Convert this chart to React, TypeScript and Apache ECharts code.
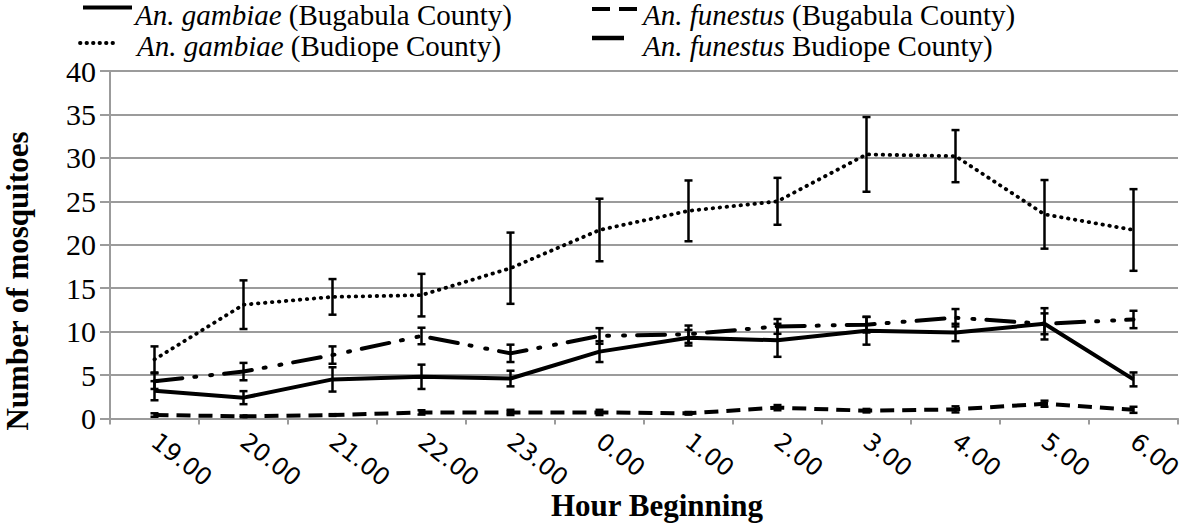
import React, { useEffect, useRef } from "react";
import * as echarts from "echarts";

const hours = ["19.00", "20.00", "21.00", "22.00", "23.00", "0.00", "1.00", "2.00", "3.00", "4.00", "5.00", "6.00"];
const yTicks = [0, 5, 10, 15, 20, 25, 30, 35, 40];

const gambiaeBugabula = [3.2, 2.4, 4.5, 4.8, 4.6, 7.7, 9.3, 9.0, 10.1, 9.9, 10.9, 4.5];
const gambiaeBugabulaErr = [1.1, 0.75, 1.4, 1.4, 0.9, 1.2, 0.9, 1.9, 1.6, 1.0, 1.2, 0.8];

const gambiaeBudiope = [6.8, 13.1, 14.0, 14.2, 17.3, 21.7, 23.9, 25.0, 30.4, 30.2, 23.5, 21.7];
const gambiaeBudiopeErr = [1.5, 2.8, 2.05, 2.45, 4.1, 3.6, 3.5, 2.7, 4.3, 3.0, 3.95, 4.7];

const funestusBugabula = [0.4, 0.25, 0.4, 0.7, 0.7, 0.7, 0.6, 1.25, 0.9, 1.05, 1.7, 1.0];
const funestusBugabulaErr = [0.2, 0.1, 0.1, 0.25, 0.3, 0.3, 0.15, 0.3, 0.2, 0.35, 0.35, 0.35];

const funestusBudiope = [4.3, 5.4, 7.3, 9.5, 7.5, 9.5, 9.7, 10.6, 10.8, 11.6, 10.9, 11.4];
const funestusBudiopeErr = [0.9, 1.0, 1.0, 0.95, 1.0, 0.9, 1.0, 0.85, 0.9, 1.0, 1.8, 1.0];

const SERIF = "'Liberation Serif', 'Times New Roman', serif";
const GRID = "#9b9b9b";
const LEGEND_FS = 29;

function errorSeries(name: string, means: number[], errs: number[]) {
  return {
    type: "custom",
    name,
    z: 5,
    silent: true,
    data: means.map((m, i) => [i, m, errs[i]]),
    renderItem: (params: any, api: any) => {
      const x = api.value(0);
      const m = api.value(1);
      const e = api.value(2);
      const top = api.coord([x, m + e]);
      const bot = api.coord([x, m - e]);
      const hw = 4;
      const style = { stroke: "#000", lineWidth: 2.5 };
      return {
        type: "group",
        children: [
          { type: "line", shape: { x1: top[0], y1: top[1], x2: bot[0], y2: bot[1] }, style },
          { type: "line", shape: { x1: top[0] - hw, y1: top[1], x2: top[0] + hw, y2: top[1] }, style },
          { type: "line", shape: { x1: bot[0] - hw, y1: bot[1], x2: bot[0] + hw, y2: bot[1] }, style },
        ],
      };
    },
  };
}

function lineSeries(name: string, data: number[], width: number, dash: any, cap: string = "butt") {
  return {
    type: "line",
    name,
    data,
    symbol: "none",
    z: 4,
    lineStyle: { color: "#000", width, type: dash, cap, join: "round" },
  };
}

function legendText(x: number, y: number, italic: string, rest: string) {
  return {
    type: "text",
    x,
    y,
    style: {
      text: `{i|${italic}}{r|${rest}}`,
      fontFamily: SERIF,
      fontSize: LEGEND_FS,
      fill: "#000",
      textAlign: "left",
      textVerticalAlign: "middle",
      verticalAlign: "middle",
      rich: {
        i: { fontFamily: SERIF, fontSize: LEGEND_FS, fontStyle: "italic", fill: "#000" },
        r: { fontFamily: SERIF, fontSize: LEGEND_FS, fill: "#000" },
      },
    },
  };
}

function legendLine(x1: number, x2: number, y: number, width: number, dash?: number[], cap: string = "butt") {
  return {
    type: "line",
    shape: { x1, y1: y, x2, y2: y },
    style: { stroke: "#000", lineWidth: width, lineDash: dash, lineCap: cap },
  };
}

export default function App() {
  const ref = useRef<HTMLDivElement>(null);
  useEffect(() => {
    document.body.style.margin = "0";
    const chart = echarts.init(ref.current!, undefined, { renderer: "svg" });
    chart.setOption({
      animation: false,
      backgroundColor: "#fff",
      grid: { left: 110, right: 22, top: 71, bottom: 106.5, containLabel: false },
      xAxis: {
        type: "category",
        data: hours,
        boundaryGap: true,
        axisLine: { show: true, lineStyle: { color: GRID, width: 2 } },
        axisTick: { show: true, length: 6, lineStyle: { color: GRID, width: 2 }, alignWithLabel: false },
        axisLabel: {
          rotate: -38,
          margin: 20,
          fontFamily: "'DejaVu Sans', sans-serif",
          fontSize: 24,
          color: "#000",
        },
        splitLine: { show: false },
      },
      yAxis: {
        type: "value",
        min: 0,
        max: 40,
        interval: 5,
        axisLine: { show: true, lineStyle: { color: GRID, width: 2 } },
        axisTick: { show: true, length: 10, inside: false, lineStyle: { color: GRID, width: 2 } },
        axisLabel: {
          margin: 14,
          fontFamily: SERIF,
          fontSize: 30,
          color: "#000",
          formatter: (v: number) => (yTicks.includes(v) ? String(v) : ""),
        },
        splitLine: { show: true, lineStyle: { color: GRID, width: 2 } },
      },
      series: [
        lineSeries("An. gambiae (Bugabula County)", gambiaeBugabula, 4, "solid"),
        lineSeries("An. funestus (Bugabula County)", funestusBugabula, 4, [14, 8]),
        lineSeries("An. gambiae (Budiope County)", gambiaeBudiope, 3.8, [0.5, 6.5], "round"),
        lineSeries("An. funestus Budiope County)", funestusBudiope, 4, [28, 12, 2, 14, 2, 12], "round"),
        errorSeries("err1", gambiaeBugabula, gambiaeBugabulaErr),
        errorSeries("err2", funestusBugabula, funestusBugabulaErr),
        errorSeries("err3", gambiaeBudiope, gambiaeBudiopeErr),
        errorSeries("err4", funestusBudiope, funestusBudiopeErr),
      ],
      graphic: [
        legendLine(83, 132, 7.5, 4),
        legendText(135, 15, "An. gambiae", " (Bugabula County)"),
        legendLine(80, 117, 43, 3.8, [0.5, 6], "round"),
        legendText(137, 46, "An. gambiae", " (Budiope County)"),
        legendLine(592, 637, 9, 4, [18, 9]),
        legendText(643, 15, "An. funestus", " (Bugabula County)"),
        legendLine(592, 624, 38, 4.5),
        legendText(643, 46, "An. funestus", " Budiope County)"),
        {
          type: "text",
          x: 17,
          y: 281,
          rotation: Math.PI / 2,
          style: {
            text: "Number of mosquitoes",
            fontFamily: SERIF,
            fontWeight: "bold",
            fontSize: 31,
            fill: "#000",
            textAlign: "center",
            textVerticalAlign: "middle",
            verticalAlign: "middle",
          },
        },
        {
          type: "text",
          x: 657,
          y: 505,
          style: {
            text: "Hour Beginning",
            fontFamily: SERIF,
            fontWeight: "bold",
            fontSize: 31,
            fill: "#000",
            textAlign: "center",
            textVerticalAlign: "middle",
            verticalAlign: "middle",
          },
        },
      ],
    });
    return () => chart.dispose();
  }, []);
  return <div ref={ref} style={{ width: 1200, height: 525 }} />;
}
